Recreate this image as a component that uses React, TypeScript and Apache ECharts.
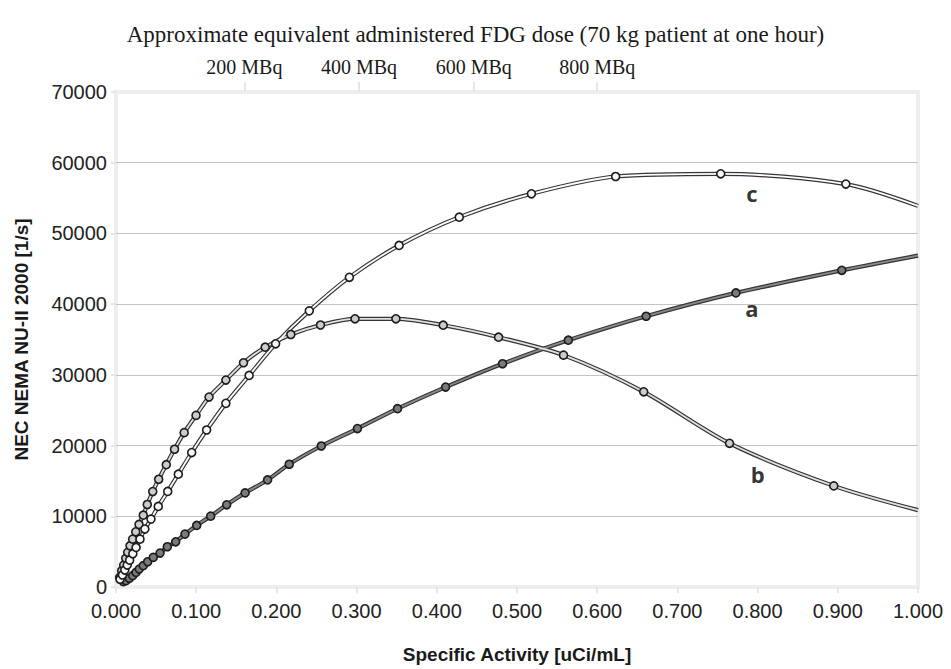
import React, { useEffect, useRef } from "react";
import * as echarts from "echarts";

// Specific activity [uCi/mL] and NEC [1/s] per curve (last point = curve end, no marker)
const activityA = [0.0091, 0.0125, 0.0166, 0.0208, 0.025, 0.029, 0.034, 0.0395, 0.0465, 0.0549, 0.064, 0.0744, 0.086, 0.1006, 0.118, 0.138, 0.161, 0.189, 0.216, 0.256, 0.301, 0.351, 0.411, 0.482, 0.564, 0.661, 0.773, 0.905, 1.0];
const necA = [750, 890, 1230, 1600, 2070, 2540, 3010, 3570, 4190, 4800, 5690, 6390, 7480, 8710, 10020, 11620, 13310, 15140, 17360, 19940, 22400, 25220, 28270, 31570, 34900, 38290, 41590, 44780, 46860];

const activityB = [0.0046, 0.0071, 0.0096, 0.0121, 0.0146, 0.0175, 0.0208, 0.0246, 0.0287, 0.034, 0.039, 0.0458, 0.0532, 0.0627, 0.073, 0.085, 0.0998, 0.116, 0.137, 0.159, 0.186, 0.218, 0.255, 0.298, 0.349, 0.408, 0.477, 0.558, 0.658, 0.765, 0.895, 1.0];
const necB = [1370, 2300, 3100, 4050, 4900, 5830, 6770, 7800, 8850, 10160, 11670, 13500, 15240, 17300, 19480, 21830, 24270, 26860, 29260, 31710, 33910, 35710, 37050, 37920, 37920, 37020, 35330, 32790, 27600, 20320, 14300, 10870];

const activityC = [0.005, 0.008, 0.011, 0.014, 0.017, 0.021, 0.025, 0.0299, 0.036, 0.0436, 0.0527, 0.0645, 0.0777, 0.0944, 0.113, 0.137, 0.166, 0.199, 0.241, 0.291, 0.353, 0.428, 0.518, 0.623, 0.754, 0.91, 1.0];
const necC = [1100, 1700, 2400, 3100, 3800, 4700, 5600, 6770, 8190, 9600, 11390, 13510, 15950, 19010, 22200, 25970, 29920, 34390, 39050, 43790, 48300, 52300, 55600, 58050, 58430, 56980, 53900];

const curveNames = ["a", "b", "c"];
const labelActivity = [0.793, 0.8, 0.793];
const labelNec = [39500, 15950, 55750];

const doseLabels = ["200 MBq", "400 MBq", "600 MBq", "800 MBq"];
const doseActivity = [0.16, 0.303, 0.446, 0.6];

const yTicks = [0, 10000, 20000, 30000, 40000, 50000, 60000, 70000];

const App: React.FC = () => {
  const ref = useRef<HTMLDivElement>(null);
  useEffect(() => {
    if (!ref.current) return;
    const chart = echarts.init(ref.current, null, { renderer: "svg" });
    const pairs = (xs: number[], ys: number[]) => xs.map((x, i) => [x, ys[i]]);
    const curves = [
      { name: "a", d: pairs(activityA, necA), inner: "#8a8a8a", fill: "#7a7a7a" },
      { name: "b", d: pairs(activityB, necB), inner: "#e2e2e2", fill: "#cccccc" },
      { name: "c", d: pairs(activityC, necC), inner: "#ffffff", fill: "#f7f7f7" },
    ];
    const series: any[] = [];
    curves.forEach((c) => {
      series.push({
        type: "line", name: c.name + "-outer", data: c.d, showSymbol: false, smooth: 0.3,
        lineStyle: { color: "#353535", width: 4.2 }, z: 2, silent: true,
      });
      series.push({
        type: "line", name: c.name + "-inner", data: c.d, showSymbol: false, smooth: 0.3,
        lineStyle: { color: c.inner, width: 1.8 }, z: 3, silent: true,
      });
    });
    curves.forEach((c) => {
      series.push({
        type: "scatter", name: c.name + "-markers", data: c.d.slice(0, c.d.length - 1),
        symbol: "circle", symbolSize: 8,
        itemStyle: { color: c.fill, borderColor: "#1c1c1c", borderWidth: 1.6, opacity: 1 },
        z: 4,
      });
    });
    series.push({
      type: "scatter", name: "labels",
      data: curveNames.map((n, i) => ({ value: [labelActivity[i], labelNec[i]], name: n })),
      symbolSize: 0,
      label: {
        show: true, position: "inside", formatter: (p: any) => p.name,
        fontFamily: "'Liberation Sans Narrow', 'Open Sans', sans-serif",
        fontWeight: "bold", fontSize: 22, color: "#000000",
      },
      z: 5,
    });

    chart.setOption({
      animation: false,
      backgroundColor: "#ffffff",
      title: {
        text: "Approximate equivalent administered FDG dose (70 kg patient at one hour)",
        left: "center", top: 18,
        textStyle: { fontFamily: "'Liberation Serif', 'Times New Roman', serif", fontWeight: "normal", fontSize: 23, color: "#1a1a1a" },
      },
      grid: { left: 116, right: 33, top: 92, bottom: 81, show: true, borderColor: "#eeeeee", borderWidth: 4, backgroundColor: "transparent" },
      xAxis: [
        {
          type: "value", min: 0, max: 1, interval: 0.1, position: "bottom",
          name: "Specific Activity [uCi/mL]", nameLocation: "middle", nameGap: 58,
          nameTextStyle: { fontFamily: "'Liberation Sans', Arial, sans-serif", fontWeight: "bold", fontSize: 19, color: "#1a1a1a" },
          axisLine: { show: false },
          axisTick: { show: true, length: 6, lineStyle: { color: "#e6e6e6", width: 2 } },
          axisLabel: { formatter: (v: number) => v.toFixed(3), fontFamily: "'Liberation Sans', Arial, sans-serif", fontSize: 20, color: "#222", margin: 14 },
          splitLine: { show: false },
        },
        {
          type: "value", min: 0, max: 1, position: "top",
          axisLine: { show: false },
          axisTick: { show: true, length: 10, customValues: doseActivity, lineStyle: { color: "#e6e6e6", width: 2 } },
          axisLabel: {
            customValues: doseActivity,
            formatter: (v: number) => {
              const i = doseActivity.findIndex((d) => Math.abs(d - v) < 1e-6);
              return i >= 0 ? doseLabels[i] : "";
            },
            fontFamily: "'Liberation Serif', 'Times New Roman', serif", fontSize: 20, color: "#1a1a1a", margin: 15,
          },
          splitLine: { show: false },
        },
      ],
      yAxis: {
        type: "value", min: 0, max: 70000, interval: 10000,
        name: "NEC NEMA NU-II 2000 [1/s]", nameLocation: "middle", nameGap: 85, nameRotate: 90,
        nameTextStyle: { fontFamily: "'Liberation Sans', Arial, sans-serif", fontWeight: "bold", fontSize: 19, color: "#1a1a1a" },
        axisLine: { show: false },
        axisTick: { show: true, length: 5, lineStyle: { color: "#e6e6e6", width: 2 } },
        axisLabel: { formatter: (v: number) => String(v), fontFamily: "'Liberation Sans', Arial, sans-serif", fontSize: 20, color: "#222", margin: 9 },
        splitLine: { show: true, lineStyle: { color: yTicks.map((t, i) => (i === 0 || i === yTicks.length - 1 ? "#eeeeee" : "#c4c4c4")), width: 1.2 } },
      },
      series,
    });
    return () => chart.dispose();
  }, []);
  return <div ref={ref} style={{ position: "fixed", left: 0, top: 0, width: 951, height: 669 }} />;
};

export default App;
